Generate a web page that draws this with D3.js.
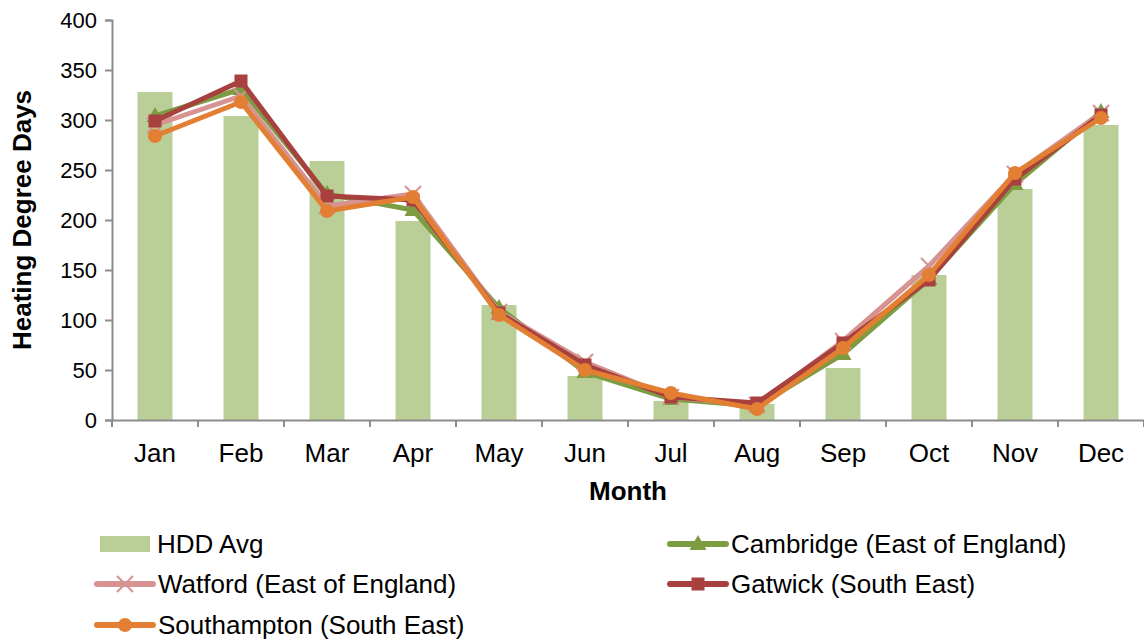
<!DOCTYPE html>
<html>
<head>
<meta charset="utf-8">
<script src="https://cdn.jsdelivr.net/npm/d3@7"></script>
<style>
  html, body { margin: 0; padding: 0; background: #fff; }
  svg { display: block; font-family: "Liberation Sans", Arial, sans-serif; }
</style>
</head>
<body>
<svg id="chart" width="1144" height="643"></svg>
<script>
// Monthly heating degree days
const months = ["Jan", "Feb", "Mar", "Apr", "May", "Jun", "Jul", "Aug", "Sep", "Oct", "Nov", "Dec"];
const hddAvg      = [328, 304, 259, 199, 115, 44, 19, 16, 52, 145, 231, 295];
const cambridge   = [304, 331, 226, 210, 112, 48, 21, 14, 66, 141, 236, 308];
const watford     = [295, 324, 214, 226, 108, 58, 23, 15, 79, 154, 246, 307];
const gatwick     = [299, 339, 224, 220, 107, 55, 23, 17, 77, 140, 241, 305];
const southampton = [284, 318, 209, 223, 105, 50, 27, 11, 72, 145, 247, 302];
const yTicks = [0, 50, 100, 150, 200, 250, 300, 350, 400];

const lineSeries = [
  { name: "Cambridge (East of England)", values: cambridge,   color: "#7d9c42", marker: "triangle" },
  { name: "Watford (East of England)",   values: watford,     color: "#d69391", marker: "cross" },
  { name: "Gatwick (South East)",        values: gatwick,     color: "#a7403e", marker: "square" },
  { name: "Southampton (South East)",    values: southampton, color: "#e37f33", marker: "circle" }
];
const barColor = "#bacf97";
const axisColor = "#8c8c8c";
const fontSize = "26px";

const svg = d3.select("#chart");
const plotLeft = 112, plotRight = 1144, plotTop = 20, plotBottom = 420;

const xc = d3.scaleBand().domain(months).range([plotLeft, plotRight]);
const y = d3.scaleLinear().domain([0, 400]).range([plotBottom, plotTop]);
const cx = m => xc(m) + xc.bandwidth() / 2;

// Bars
svg.append("g").selectAll("rect").data(hddAvg).join("rect")
  .attr("x", (d, i) => cx(months[i]) - 17.5)
  .attr("width", 35)
  .attr("y", d => y(d))
  .attr("height", d => y(0) - y(d))
  .attr("fill", barColor);

// Axes
const yAxis = svg.append("g").attr("transform", `translate(${plotLeft},0)`)
  .call(d3.axisLeft(y).tickValues(yTicks).tickSize(7).tickPadding(8));
const xAxis = svg.append("g").attr("transform", `translate(0,${plotBottom})`)
  .call(d3.axisBottom(xc).tickSize(0).tickPadding(24));
// tick marks at category boundaries
xAxis.selectAll(".bound").data(d3.range(months.length + 1)).join("line")
  .attr("class", "bound")
  .attr("x1", i => plotLeft + i * xc.step()).attr("x2", i => plotLeft + i * xc.step())
  .attr("y1", 0).attr("y2", 7)
  .attr("stroke", axisColor).attr("stroke-width", 2);

[yAxis, xAxis].forEach(g => {
  g.select(".domain").attr("stroke", axisColor).attr("stroke-width", 2);
  g.selectAll(".tick line").attr("stroke", axisColor).attr("stroke-width", 2);
  g.selectAll(".tick text").attr("fill", "#000")
    .style("font-family", "'Liberation Sans', Arial, sans-serif");
});
xAxis.selectAll(".tick text").style("font-size", fontSize);
yAxis.selectAll(".tick text").style("font-size", "22px").attr("dy", "0.35em");

// Axis titles
svg.append("text")
  .attr("transform", `translate(31,${(plotTop + plotBottom) / 2}) rotate(-90)`)
  .attr("text-anchor", "middle")
  .style("font-size", fontSize).style("font-weight", "bold")
  .text("Heating Degree Days");
svg.append("text")
  .attr("x", (plotLeft + plotRight) / 2).attr("y", 500)
  .attr("text-anchor", "middle")
  .style("font-size", fontSize).style("font-weight", "bold")
  .text("Month");

// Marker drawing
function drawMarker(g, type, px, py, color) {
  if (type === "triangle") {
    g.append("path")
      .attr("d", `M${px},${py - 9} L${px + 8.5},${py + 6} L${px - 8.5},${py + 6} Z`)
      .attr("fill", color);
  } else if (type === "square") {
    g.append("rect").attr("x", px - 6.5).attr("y", py - 6.5).attr("width", 13).attr("height", 13)
      .attr("fill", color);
  } else if (type === "circle") {
    g.append("circle").attr("cx", px).attr("cy", py).attr("r", 7).attr("fill", color);
  } else if (type === "cross") {
    g.append("path")
      .attr("d", `M${px - 8},${py - 8} L${px + 8},${py + 8} M${px - 8},${py + 8} L${px + 8},${py - 8}`)
      .attr("stroke", color).attr("stroke-width", 2);
  }
}

// Lines
const line = d3.line().x((d, i) => cx(months[i])).y(d => y(d));
lineSeries.forEach(s => {
  const g = svg.append("g");
  g.append("path").datum(s.values)
    .attr("d", line)
    .attr("fill", "none").attr("stroke", s.color)
    .attr("stroke-width", 5).attr("stroke-linejoin", "round");
  s.values.forEach((v, i) => drawMarker(g, s.marker, cx(months[i]), y(v), s.color));
});

// Legend
const legendItems = [
  { name: "HDD Avg", type: "bar", x: 100, y: 544 },
  { name: lineSeries[0].name, type: "line", s: lineSeries[0], x: 670, y: 544 },
  { name: lineSeries[1].name, type: "line", s: lineSeries[1], x: 97, y: 584 },
  { name: lineSeries[2].name, type: "line", s: lineSeries[2], x: 670, y: 584 },
  { name: lineSeries[3].name, type: "line", s: lineSeries[3], x: 97, y: 625 }
];
legendItems.forEach(it => {
  const g = svg.append("g");
  if (it.type === "bar") {
    g.append("rect").attr("x", it.x).attr("y", it.y - 8).attr("width", 50).attr("height", 16).attr("fill", barColor);
  } else {
    g.append("line").attr("x1", it.x).attr("x2", it.x + 56).attr("y1", it.y).attr("y2", it.y)
      .attr("stroke", it.s.color).attr("stroke-width", 6).attr("stroke-linecap", "round");
    drawMarker(g, it.s.marker, it.x + 28, it.y, it.s.color);
  }
  g.append("text").attr("x", it.type === "bar" ? 157 : it.x + 61).attr("y", it.y)
    .attr("dy", "0.35em").style("font-size", fontSize).text(it.name);
});
</script>
</body>
</html>
